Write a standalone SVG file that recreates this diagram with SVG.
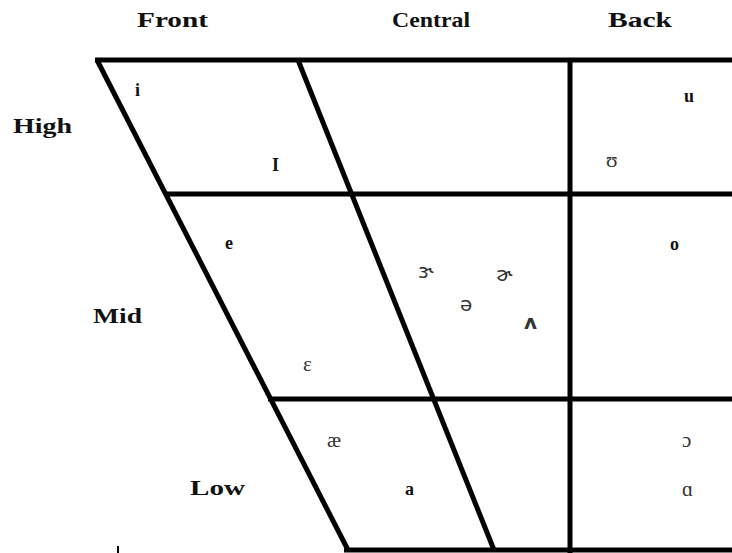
<svg xmlns="http://www.w3.org/2000/svg" width="732" height="553" viewBox="0 0 732 553">
<style>
.ln{stroke:#000;stroke-width:5;fill:none;stroke-linecap:butt}
.hd{font-family:"Liberation Serif","Times New Roman",serif;font-weight:bold;font-size:22px;fill:#111}
.v{font-family:"Liberation Serif","Times New Roman",serif;font-weight:bold;font-size:18px;fill:#111}
.g{font-family:"DejaVu Sans","Liberation Sans",sans-serif;font-size:20px;fill:#333}
.gs{font-family:"Liberation Serif","DejaVu Serif",serif;font-size:21px;fill:#333}
</style>
<rect width="732" height="553" fill="#fff"/>
<g id="connectors">
<line class="ln" x1="95" y1="60" x2="732" y2="60"/>
<line class="ln" x1="97" y1="60" x2="348" y2="550"/>
<line class="ln" x1="298" y1="60" x2="494" y2="550"/>
<line class="ln" x1="570" y1="60" x2="570" y2="553"/>
<line class="ln" x1="166" y1="194" x2="732" y2="194"/>
<line class="ln" x1="268" y1="399" x2="732" y2="399"/>
<line class="ln" x1="344" y1="550" x2="732" y2="550"/>
<line stroke="#000" stroke-width="2" x1="118" y1="546" x2="118" y2="553"/>
</g>
<g id="headers">
<text class="hd" x="137" y="27" textLength="71" lengthAdjust="spacingAndGlyphs">Front</text>
<text class="hd" x="392" y="27" textLength="78" lengthAdjust="spacingAndGlyphs">Central</text>
<text class="hd" x="608" y="27" textLength="64" lengthAdjust="spacingAndGlyphs">Back</text>
<text class="hd" x="13" y="133" textLength="59" lengthAdjust="spacingAndGlyphs">High</text>
<text class="hd" x="93" y="323" textLength="49" lengthAdjust="spacingAndGlyphs">Mid</text>
<text class="hd" x="190" y="495" textLength="55" lengthAdjust="spacingAndGlyphs">Low</text>
</g>
<g id="vowels">
<text class="v" x="135" y="96">i</text>
<text class="v" x="272" y="171">I</text>
<text class="v" x="684" y="102">u</text>
<text class="gs" x="606" y="167">ʊ</text>
<text class="v" x="225" y="249">e</text>
<text class="v" x="670" y="250">o</text>
<text class="g" x="418" y="278">ɝ</text>
<text class="g" x="496" y="281">ɚ</text>
<text class="g" x="460" y="311">ə</text>
<text class="g" x="524" y="329" font-weight="bold" font-size="24">ʌ</text>
<text class="gs" x="303" y="371">ɛ</text>
<text class="gs" x="327" y="447">æ</text>
<text class="v" x="405" y="495">a</text>
<text class="gs" x="682" y="447" font-size="24">ɔ</text>
<text class="gs" x="682" y="496" font-size="24">ɑ</text>
</g>
</svg>
